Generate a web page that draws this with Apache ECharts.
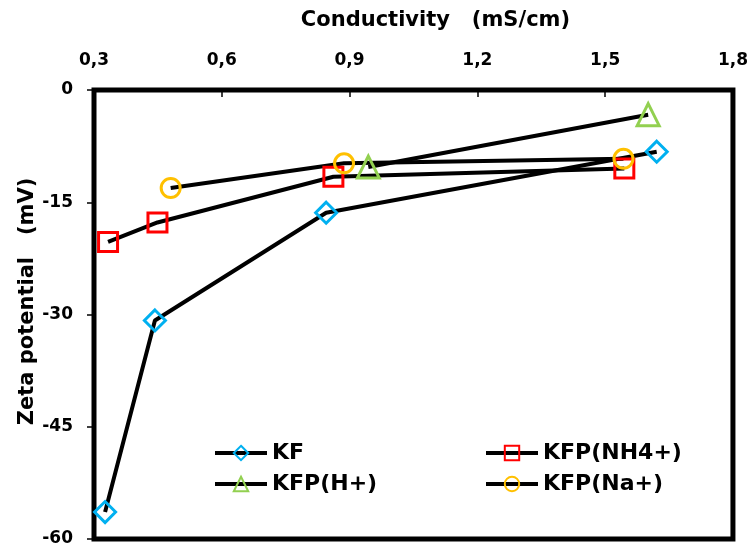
<!DOCTYPE html>
<html style="height: 100%">
	<head>
		<meta charset="utf-8" />
		<script src="https://cdn.jsdelivr.net/npm/echarts@6/dist/echarts.min.js"></script>
		<title>Zeta potential vs conductivity</title>
	</head>
	<body style="height: 100%; margin: 0; background: #fff">
		<div id="container" style="width: 751px; height: 550px"></div>
		<script type="text/javascript">
			// values, [conductivity mS/cm, zeta mV]
			let kfData = [[0.326, -56.4], [0.443, -30.8], [0.845, -16.4], [1.621, -8.25]];
			let nh4Data = [[0.333, -20.3], [0.449, -17.7], [0.862, -11.6], [1.545, -10.5]];
			let hData = [[0.944, -10.3], [1.601, -3.3]];
			let naData = [[0.480, -13.1], [0.887, -9.8], [1.543, -9.2]];

			let seriesNames = ["KF", "KFP(NH4+)", "KFP(H+)", "KFP(Na+)"];
			let markerColors = ["#00B0F0", "#FF0000", "#92D050", "#FFC000"];
			let markerShapes = ["diamond", "rect", "triangle", "circle"];
			let markerSizes = [21, 19, 22, 19];

			let font = "DejaVu Sans";

			// one black line + hollow coloured marker per series
			function makeSeries(i, points) {
				return {
					name: seriesNames[i],
					type: "line",
					data: points,
					symbol: markerShapes[i],
					symbolSize: markerSizes[i],
					lineStyle: {color: "#000", width: 4},
					itemStyle: {
						color: "rgba(0,0,0,0)",
						borderColor: markerColors[i],
						borderWidth: 3,
					},
					emphasis: {disabled: true},
					animation: false,
				};
			}

			let legendText = {fontFamily: font, fontWeight: "bold", fontSize: 22, color: "#000", lineHeight: 22};

			function makeLegend(names, left) {
				return {
					data: names,
					orient: "vertical",
					left: left, top: 442,
					padding: 0,
					itemWidth: 52, itemHeight: 18, itemGap: 9,
					itemStyle: {borderWidth: 2},
					lineStyle: {color: "#000", width: 4},
					textStyle: legendText,
					selectedMode: false,
				};
			}

			let chart = echarts.init(document.getElementById("container"));
			chart.setOption({
				backgroundColor: "#fff",
				grid: {
					left: 94, right: 17, top: 90, bottom: 11,
					show: true,
					borderColor: "#000",
					borderWidth: 5,
				},
				xAxis: {
					type: "value",
					position: "top",
					min: 0.3,
					max: 1.8,
					interval: 0.3,
					name: "Conductivity   (mS/cm)",
					nameLocation: "middle",
					nameGap: 59,
					nameMoveOverlap: false,
					nameTextStyle: {fontFamily: font, fontWeight: "bold", fontSize: 21, color: "#000", padding: [0, 0, 0, 44]},
					axisLine: {show: false},
					axisTick: {show: true, inside: true, length: 7, lineStyle: {color: "#000", width: 1.5}},
					axisLabel: {
						margin: 21,
						fontFamily: font, fontWeight: "bold", fontSize: 17, color: "#000",
						formatter: (v) => v.toFixed(1).replace(".", ","),
					},
					splitLine: {show: false},
				},
				yAxis: {
					type: "value",
					min: -60,
					max: 0,
					interval: 15,
					name: "Zeta potential   (mV)",
					nameLocation: "middle",
					nameGap: 56,
					nameMoveOverlap: false,
					nameTextStyle: {fontFamily: font, fontWeight: "bold", fontSize: 21, color: "#000", padding: [0, 0, 0, 26]},
					axisLine: {show: false},
					axisTick: {show: true, length: 7, lineStyle: {color: "#000", width: 1.5}},
					axisLabel: {margin: 21, fontFamily: font, fontWeight: "bold", fontSize: 17, color: "#000"},
					splitLine: {show: false},
				},
				legend: [
					makeLegend([seriesNames[0], seriesNames[2]], 213),
					makeLegend([seriesNames[1], seriesNames[3]], 484),
				],
				series: [
					makeSeries(0, kfData),
					makeSeries(1, nh4Data),
					makeSeries(2, hData),
					makeSeries(3, naData),
				],
			});
		</script>
	</body>
</html>
